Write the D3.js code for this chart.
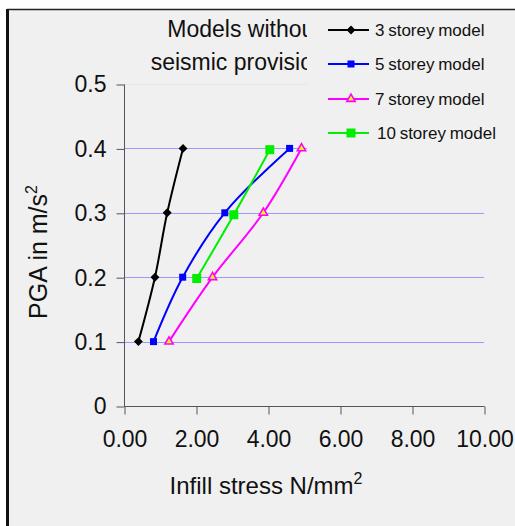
<!DOCTYPE html>
<html><head><meta charset="utf-8">
<script src="https://cdn.jsdelivr.net/npm/d3@7"></script>
<style>
html,body{margin:0;padding:0;background:#fff;}
svg text{font-family:Arial,"Liberation Sans",sans-serif;}
</style></head>
<body>
<svg id="chart" width="515" height="526"></svg>
<script>
const seriesNames = ["3 storey model","5 storey model","7 storey model","10 storey model"];
const s3 = [[0.40,0.1],[0.86,0.2],[1.20,0.3],[1.64,0.4]];
const s5 = [[0.82,0.1],[1.63,0.2],[2.80,0.3],[4.60,0.4]];
const s7 = [[1.25,0.1],[2.46,0.2],[3.87,0.3],[4.93,0.4]];
const s10 = [[2.02,0.198],[3.05,0.297],[4.05,0.398]];
const xTicks = [0,2,4,6,8,10];
const yTicks = [0,0.1,0.2,0.3,0.4,0.5];
const titleLines = ["Models without","seismic provisions"];

const svg = d3.select("#chart");
const L=124,R=484,T=84,B=406;
const x = d3.scaleLinear().domain([0,10]).range([L,R]);
const y = d3.scaleLinear().domain([0,0.5]).range([B,T]);

// background & border
svg.append("rect").attr("x",8).attr("y",9).attr("width",507).attr("height",517).attr("fill","#f0f0f0");
svg.append("line").attr("x1",7.5).attr("x2",7.5).attr("y1",9).attr("y2",526).attr("stroke","#111").attr("stroke-width",3);
svg.append("line").attr("x1",7).attr("x2",515).attr("y1",9.5).attr("y2",9.5).attr("stroke","#222").attr("stroke-width",1.5);

// gridlines
svg.append("g").selectAll("line").data(yTicks.filter(d=>d>0)).join("line")
  .attr("x1",L).attr("x2",R).attr("y1",d=>Math.round(y(d))+0.5).attr("y2",d=>Math.round(y(d))+0.5)
  .attr("stroke",d=>d===0.5?"#e4e4ee":"#9a9aff").attr("stroke-width",1);

// axes
const yAxis = d3.axisLeft(y).tickValues(yTicks).tickSize(8).tickPadding(10).tickFormat(d=>d===0?"0":d3.format(".1f")(d));
const gy = svg.append("g").attr("transform",`translate(${L+0.5},0.5)`).call(yAxis);
const xAxis = d3.axisBottom(x).tickValues(xTicks).tickSize(8).tickPadding(16).tickFormat(d3.format(".2f"));
const gx = svg.append("g").attr("transform",`translate(0.5,${B+0.5})`).call(xAxis);
[gx,gy].forEach(g=>{
  g.select(".domain").attr("stroke","#555");
  g.selectAll(".tick line").attr("stroke","#555");
  g.selectAll("text").attr("fill","#111").style("font-size","23px").attr("font-family","Arial, 'Liberation Sans', sans-serif");
});
gx.select(".domain").attr("d",`M${L},0H${R}`);
gy.select(".domain").attr("d",`M0,${B}V${T}`);

// axis titles
const xt = svg.append("text").attr("x",266).attr("y",494).attr("text-anchor","middle")
  .style("font-size","24px").attr("fill","#111");
xt.append("tspan").text("Infill stress N/mm");
xt.append("tspan").text("2").attr("dy",-10).style("font-size","16px");
const yt = svg.append("text").attr("transform","translate(47,252) rotate(-90)").attr("text-anchor","middle")
  .style("font-size","25px").attr("fill","#111");
yt.append("tspan").text("PGA in m/s");
yt.append("tspan").text("2").attr("dy",-10).style("font-size","16px");

// title
svg.append("g").selectAll("text").data(titleLines).join("text")
  .attr("x",244).attr("y",(d,i)=>37+i*33).attr("text-anchor","middle")
  .style("font-size","23px").attr("fill","#111").text(d=>d);

// series
const styles = [
  {data:s3,color:"#000000",marker:"diamond",size:40,fill:"#000000"},
  {data:s5,color:"#0000ff",marker:"square",size:49,fill:"#0000ff"},
  {data:s7,color:"#ff00ff",marker:"triangle",size:30,fill:"#ffff00"},
  {data:s10,color:"#00ee00",marker:"square",size:81,fill:"#00ee00"}
];
const symType = {diamond:d3.symbolSquare,square:d3.symbolSquare,triangle:d3.symbolTriangle};
const rot = m => m==="diamond"?" rotate(45)":"";
const line = d3.line().x(d=>x(d[0])).y(d=>y(d[1])).curve(d3.curveCatmullRom.alpha(0.5));
styles.forEach(s=>{
  svg.append("path").attr("d",line(s.data)).attr("fill","none").attr("stroke",s.color).attr("stroke-width",2);
  svg.append("g").selectAll("path").data(s.data).join("path")
    .attr("transform",d=>`translate(${x(d[0])},${y(d[1])})${rot(s.marker)}`)
    .attr("d",d3.symbol().type(symType[s.marker]).size(s.size))
    .attr("fill",s.fill).attr("stroke",s.marker==="triangle"?s.color:"none").attr("stroke-width",1.6);
});

// legend (covers title)
svg.append("rect").attr("x",307).attr("y",11).attr("width",208).attr("height",140).attr("fill","#f0f0f0");
const lg = svg.append("g");
styles.forEach((s,i)=>{
  const cy = [30,64,99,133][i];
  lg.append("line").attr("x1",328).attr("x2",369).attr("y1",cy).attr("y2",cy).attr("stroke",s.color).attr("stroke-width",2);
  lg.append("path").attr("transform",`translate(351,${cy})${rot(s.marker)}`)
    .attr("d",d3.symbol().type(symType[s.marker]).size(s.size))
    .attr("fill",s.fill).attr("stroke",s.marker==="triangle"?s.color:"none").attr("stroke-width",1.6);
  lg.append("text").attr("x",i===3?377:375).attr("y",cy+6).style("font-size","17px")
    .style("word-spacing","-1px").attr("fill","#111").text(seriesNames[i]);
});
</script>
</body></html>
